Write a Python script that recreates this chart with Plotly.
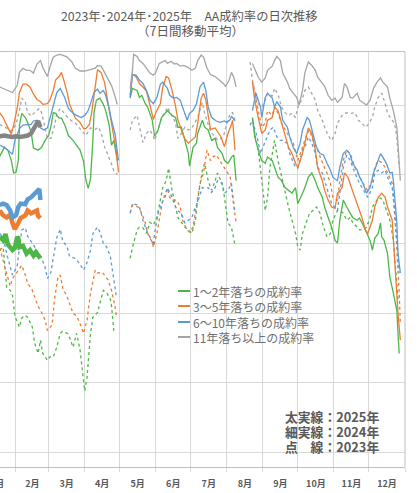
import plotly.graph_objects as go

# ---------------- data ----------------
MONTH_LABELS = ["1月", "2月", "3月", "4月", "5月", "6月", "7月", "8月", "9月", "10月", "11月", "12月"]
MONTH_STARTS = [1, 32, 60, 91, 121, 152, 182, 213, 244, 274, 305, 335, 366]  # day-of-year
CATEGORY_NAMES = ["1～2年落ちの成約率", "3～5年落ちの成約率", "6～10年落ちの成約率", "11年落ち以上の成約率"]
YEAR_NOTES = ["太実線：2025年", "細実線：2024年", "点　線：2023年"]
TITLE = "2023年･2024年･2025年　AA成約率の日次推移"
SUBTITLE = "（7日間移動平均）"

# x = day of year, y = contract rate (%, 7-day moving average); None = break in the series
# ---- 2025 (thick solid) ----
d25_green = [18, 21, 23, 25, 29, 31, 33, 34, 35, 38, 41, 44, 47, 49, 53]
v25_green = [41.0, 40.5, 41.4, 39.9, 39.1, 39.4, 41.0, 40.8, 39.5, 39.7, 38.6, 39.1, 38.3, 38.8, 37.9]
d25_orange = [18, 21, 24, 27, 29, 31, 34, 36, 40, 42, 45, 47, 50, 51, 53]
v25_orange = [44.8, 44.1, 43.8, 44.2, 43.0, 42.1, 43.0, 43.7, 44.1, 44.8, 44.4, 44.5, 44.8, 44.0, 43.7]
d25_blue = [18, 21, 24, 27, 29, 32, 34, 36, 40, 42, 45, 47, 50, 52, 53]
v25_blue = [45.6, 45.8, 45.6, 44.8, 43.8, 44.1, 45.3, 45.8, 45.7, 46.4, 46.7, 47.1, 47.7, 47.9, 46.3]
d25_gray = [18, 22, 25, 29, 32, 35, 39, 42, 45, 47, 49, 51, 53]
v25_gray = [55.5, 55.6, 55.5, 55.4, 55.5, 55.4, 55.5, 55.6, 55.9, 56.5, 57.2, 57.7, 56.8]

# ---- 2024 (thin solid) ----
d24_green = [18, 22, 25, 28, 30, 32, 34, 35, 37, 40, 42, 45, 47, 51, 54, 57, 60, 62, 64, 66, 69, 71, 74, 77, 81,
             84, 87, 90, 92, 94, 96, 98, 99, 101, 104, 107, 109, 112, 114, 116, 119, None,
             130, 132, 136, 138, 140, 143, 145, 149, 151, 154, 157, 160, 162, 166, 169, 171, 174, 177, 180, 181,
             184, 187, 188, 192, 194, 197, 200, 203, 205, 209, 211, 214, 217, 219, 221, None,
             235, 237, 240, 243, 246, 248, 252, 254, 257, 260, 263, 266, 269, 272, 274, 278, 280, 283, 286, 289,
             291, 295, 297, 300, 303, 306, 308, 310, 313, 316, 319, 321, 325, 327, 330, 333, 336, 338, 340, 343,
             345, 346, 348, 351, 353, 356, 359, 360, 361]
v24_green = [52.6, 53.9, 53.5, 52.0, 50.2, 50.3, 52.0, 57.1, 58.8, 58.2, 57.5, 56.1, 53.8, 53.5, 53.9, 54.9, 55.6,
             56.9, 58.9, 58.8, 58.1, 58.1, 57.1, 55.6, 54.9, 54.2, 53.5, 51.9, 49.2, 48.0, 49.4, 54.9, 58.9, 60.7,
             61.0, 60.1, 59.2, 57.1, 54.2, 54.9, 52.0, None,
             61.0, 62.4, 62.1, 61.1, 61.4, 60.2, 59.7, 57.8, 55.5, 56.4, 58.2, 58.9, 59.2, 58.5, 58.2, 56.8, 56.8,
             54.9, 53.0, 51.2, 53.9, 54.5, 55.9, 57.8, 56.8, 56.4, 54.9, 55.2, 53.9, 53.0, 52.0, 51.6, 52.5, 52.8,
             49.1, None,
             58.1, 55.4, 53.5, 52.0, 51.6, 52.5, 52.0, 51.0, 49.6, 49.1, 48.1, 47.7, 47.3, 48.1, 45.8, 47.3, 48.1,
             49.6, 50.2, 49.1, 48.1, 46.7, 45.3, 43.8, 42.4, 40.5, 40.1, 43.4, 46.3, 45.3, 44.4, 43.8, 43.4, 43.7,
             42.7, 41.5, 40.5, 39.1, 40.8, 41.5, 43.0, 41.0, 40.5, 38.6, 35.2, 32.9, 30.4, 27.1, 24.2]

d24_orange = [18, 21, 24, 28, 30, 33, 35, 38, 41, 44, 47, 50, 53, 55, 59, 61, 64, 66, 69, 71, 73, 76, 78, 81, 83,
              87, 90, 92, 95, 97, 99, 101, 102, 105, 108, 110, 113, 115, 118, 120, None,
              130, 132, 135, 138, 141, 144, 147, 150, 152, 156, 158, 161, 163, 166, 169, 171, 174, 177, 180, 182,
              186, 188, 191, 193, 195, 197, 199, 203, 205, 208, 211, 214, 217, 218, 220, None,
              235, 237, 240, 243, 246, 248, 252, 254, 257, 260, 263, 266, 269, 272, 274, 278, 280, 283, 286, 289,
              291, 295, 297, 300, 303, 306, 308, 312, 314, 317, 320, 323, 326, 329, 332, 334, 338, 340, 343, 346,
              349, 351, 355, 356, 358, 360, 362]
v24_orange = [58.9, 58.2, 57.1, 55.8, 57.1, 59.5, 61.8, 63.0, 63.0, 62.6, 61.6, 60.8, 60.5, 60.1, 60.2, 60.7, 62.1,
              63.6, 64.1, 64.7, 63.6, 61.8, 60.1, 58.9, 58.1, 57.5, 56.6, 56.6, 57.2, 58.9, 61.4, 64.1, 65.1, 64.7,
              63.3, 61.3, 58.7, 56.4, 53.5, 50.3, None,
              61.4, 64.4, 64.1, 63.1, 62.6, 62.0, 60.0, 57.9, 58.9, 60.2, 62.6, 64.1, 63.9, 62.1, 59.8, 57.9, 56.4,
              55.1, 54.5, 54.8, 55.4, 57.4, 61.0, 61.7, 60.7, 58.5, 56.5, 56.7, 56.1, 55.4, 54.0, 55.9, 57.2, 57.8,
              53.5, None,
              63.3, 60.7, 58.2, 55.9, 56.4, 57.8, 58.2, 59.7, 59.2, 57.4, 55.4, 53.9, 53.0, 51.6, 51.0, 53.0, 54.5,
              56.7, 55.9, 53.5, 51.0, 49.1, 47.7, 46.3, 45.3, 45.1, 47.3, 48.1, 50.2, 49.6, 48.1, 46.7, 45.3, 43.8,
              42.0, 41.5, 43.4, 45.3, 46.7, 47.3, 46.7, 45.3, 43.4, 40.5, 35.8, 30.0, 26.1]

d24_blue = [18, 22, 25, 29, 31, 35, 38, 41, 45, 47, 50, 53, 56, 59, 62, 65, 67, 70, 71, 74, 77, 81, 84, 88, 91,
            94, 96, 99, 102, 104, 107, 109, 112, 114, 117, 119, 120, None,
            130, 132, 135, 138, 141, 144, 147, 150, 153, 156, 158, 162, 164, 167, 170, 173, 175, 179, 181, 184,
            187, 190, 193, 195, 197, 200, 204, 207, 211, 213, 216, 217, 220, None,
            235, 238, 242, 243, 246, 248, 252, 254, 256, 259, 261, 265, 267, 270, 273, 276, 278, 282, 284, 287,
            290, 293, 296, 299, 302, 304, 308, 310, 313, 316, 319, 321, 325, 327, 330, 333, 336, 339, 342, 345,
            347, 350, 353, 355, 356, 357, 359, 360, 362]
v24_blue = [54.2, 53.9, 53.5, 52.9, 54.9, 56.6, 57.1, 57.1, 57.2, 57.7, 57.8, 56.7, 56.4, 56.7, 58.5, 60.4, 61.8,
            62.4, 62.1, 61.0, 59.5, 58.8, 58.5, 58.2, 58.5, 59.2, 60.2, 61.8, 62.3, 61.7, 62.1, 61.4, 59.5, 57.8,
            55.9, 53.2, 52.0, None,
            61.1, 64.4, 64.3, 63.6, 63.1, 62.1, 60.7, 60.2, 61.1, 63.0, 63.3, 62.4, 61.4, 61.0, 61.1, 60.7, 59.7,
            57.8, 58.8, 59.2, 60.2, 62.6, 63.3, 62.1, 59.7, 58.2, 57.7, 57.5, 57.7, 57.5, 57.9, 58.4, 57.7, None,
            59.2, 61.7, 59.7, 58.2, 61.1, 61.7, 61.0, 59.7, 60.5, 59.7, 57.8, 56.8, 55.4, 53.9, 53.0, 54.5, 56.4,
            58.2, 57.8, 55.9, 53.9, 53.0, 52.8, 51.6, 50.6, 49.6, 49.1, 51.0, 53.0, 53.5, 52.8, 51.6, 50.6, 49.6,
            48.7, 47.3, 48.1, 50.2, 51.6, 53.0, 52.5, 51.6, 50.2, 50.3, 49.1, 46.7, 43.0, 38.6, 35.8]

d24_gray = [18, 24, 29, 33, 35, 38, 41, 44, 47, 50, 53, 55, 59, 61, 64, 67, 70, 72, 76, 80, 83, 87, 91, 96, 100,
            102, 105, 108, 111, 114, 116, 119, None,
            130, 132, 133, 136, 138, 141, 144, 147, 150, 152, 155, 157, 160, 162, 165, 168, 170, 173, 176, 180,
            183, 186, 188, 191, 193, 196, 199, 203, 206, 210, 212, 215, 217, 219, 221, None,
            235, 237, 240, 243, 246, 248, 252, 254, 256, 259, 261, 265, 267, 270, 273, 275, 278, 280, 283, 286,
            289, 291, 295, 297, 300, 303, 306, 308, 312, 314, 316, 319, 321, 325, 327, 330, 333, 336, 339, 342,
            345, 347, 351, 353, 356, 359, 361, 362]
v24_gray = [62.6, 62.1, 61.8, 62.8, 64.7, 65.3, 65.0, 65.0, 64.6, 65.9, 66.4, 65.4, 64.1, 65.4, 66.9, 67.2, 67.3,
            67.2, 66.9, 66.2, 65.3, 64.9, 64.9, 65.1, 65.3, 65.7, 65.6, 64.7, 63.7, 62.8, 61.8, 60.1, None,
            62.4, 65.0, 67.3, 67.0, 66.4, 66.0, 65.3, 64.6, 64.3, 64.7, 66.0, 66.2, 66.4, 66.0, 66.3, 65.9, 66.0,
            65.6, 65.7, 65.4, 65.0, 65.3, 66.4, 67.2, 66.9, 65.3, 64.4, 64.1, 63.7, 63.1, 62.7, 63.6, 64.7, 64.0,
            62.6, None,
            66.0, 65.3, 64.0, 63.3, 63.9, 65.0, 65.6, 66.4, 67.0, 66.4, 64.6, 63.3, 62.4, 61.7, 61.1, 60.0, 62.1,
            64.6, 66.2, 65.7, 65.0, 64.0, 63.1, 62.7, 61.4, 60.7, 61.0, 60.4, 61.1, 63.1, 62.7, 61.1, 61.0, 61.7,
            60.7, 60.4, 60.0, 60.7, 62.4, 63.3, 63.9, 63.3, 62.6, 61.0, 59.2, 56.8, 52.5, 49.1]

# ---- 2023 (dotted) ----
d23_green = [18, 21, 23, 24, 27, 29, 31, 34, 35, 37, 40, 42, 46, 48, 51, 53, 55, 59, 61, 64, 67, 70, 72, 76, 78,
             81, 84, 87, 90, 91, 93, 96, 98, 102, 104, 107, 110, 113, 114, 116, 118, None,
             130, 132, 136, 138, 141, 144, 147, 150, 153, 156, 158, 161, 163, 166, 169, 171, 174, 177, 180, 183,
             186, 188, 192, 194, 197, 200, 203, 205, 209, 211, 214, 217, 220, None,
             235, 237, 240, 243, 246, 248, 250, 253, 254, 257, 260, 263, 266, 269, 272, 274, 276, 278, 282, 284,
             287, 290, 293, 296, 299, 302, 304, 308, 310, 313, 316, 319, 321, 325, 327, 330, 333, 336, 338, 342,
             344, 347, 350, 353, 356, 358, 360]
v23_green = [39.1, 39.5, 35.8, 33.7, 33.3, 32.6, 29.6, 28.5, 28.0, 29.3, 29.7, 29.4, 28.0, 25.7, 24.2, 26.1, 24.2,
             23.2, 23.7, 23.7, 25.1, 27.1, 27.4, 27.1, 26.5, 25.1, 27.1, 24.7, 20.8, 18.8, 20.8, 27.1, 29.4, 30.1,
             31.4, 33.3, 32.9, 32.0, 31.1, 27.5, 27.2, None,
             37.9, 39.5, 42.0, 42.4, 42.3, 41.5, 43.1, 42.7, 43.8, 46.7, 48.1, 49.1, 50.9, 47.7, 45.3, 43.8, 43.1,
             42.4, 42.0, 41.5, 43.4, 46.3, 50.6, 51.6, 49.1, 47.7, 49.1, 50.2, 48.7, 46.7, 43.0, 42.4, 39.8, None,
             58.2, 55.9, 53.5, 49.1, 44.8, 46.7, 51.0, 53.9, 54.9, 52.0, 49.6, 47.7, 45.3, 43.4, 41.5, 39.5, 39.1,
             41.5, 43.4, 44.4, 44.8, 45.3, 44.4, 42.4, 41.0, 41.5, 43.4, 44.8, 44.8, 44.4, 43.4, 43.8, 43.1, 42.4,
             42.0, 42.0, 42.4, 43.8, 45.3, 46.3, 46.7, 46.3, 44.8, 43.4, 40.5, 35.8, 31.9]

d23_orange = [18, 21, 24, 27, 29, 33, 35, 37, 40, 42, 46, 48, 51, 54, 57, 59, 63, 65, 68, 70, 72, 76, 78, 81, 84,
              87, 90, 93, 96, 100, 102, 106, 108, 111, 114, 117, 118, None,
              130, 132, 137, 140, 143, 145, 149, 150, 153, 156, 158, 162, 164, 167, 170, 173, 175, 179, 181, 184,
              187, 190, 193, 196, 199, 201, 204, 207, 210, 213, 216, 218, 221, None,
              235, 237, 240, 243, 246, 248, 252, 254, 257, 260, 265, 267, 270, 274, 278, 282, 284, 287, 290, 293,
              296, 299, 302, 304, 308, 310, 313, 316, 319, 323, 327, 332, 334, 338, 340, 343, 346, 349, 351, 355,
              357, 359, 361, 362]
v23_orange = [39.4, 37.6, 35.8, 33.9, 35.0, 35.9, 36.5, 36.9, 35.5, 34.3, 33.3, 32.3, 31.0, 30.1, 29.0, 27.5, 28.3,
              31.9, 35.2, 35.5, 33.7, 32.3, 31.4, 30.0, 29.6, 28.5, 27.1, 29.0, 32.9, 36.2, 35.8, 35.9, 35.5, 34.8,
              33.3, 31.0, 29.7, None,
              44.5, 45.6, 45.3, 44.4, 43.0, 41.5, 40.2, 39.5, 41.5, 44.4, 46.3, 48.0, 46.7, 46.3, 46.3, 45.3, 43.4,
              42.0, 41.7, 42.4, 45.3, 48.7, 50.2, 53.5, 52.0, 52.5, 52.8, 52.0, 51.0, 50.2, 49.6, 46.7, 43.0, None,
              63.3, 61.7, 58.8, 56.8, 57.4, 59.2, 58.5, 59.7, 58.8, 57.4, 55.9, 55.4, 54.5, 52.0, 53.9, 55.9, 56.4,
              54.9, 53.9, 52.5, 51.3, 50.2, 48.7, 46.7, 46.3, 49.1, 52.0, 53.5, 53.0, 51.0, 49.6, 48.1, 47.7, 49.1,
              51.0, 52.0, 51.7, 51.0, 50.2, 48.7, 44.4, 39.5, 32.9, 28.5]

d23_blue = [18, 21, 24, 27, 29, 33, 35, 37, 40, 42, 46, 48, 51, 54, 57, 59, 62, 64, 67, 70, 72, 76, 78, 83, 86,
            90, 93, 96, 98, 102, 104, 107, 110, 113, 115, 118, None,
            130, 132, 136, 138, 141, 144, 147, 150, 151, 154, 157, 160, 162, 166, 169, 171, 174, 177, 180, 183,
            186, 188, 192, 194, 197, 200, 203, 205, 209, 211, 214, 217, 220, None,
            233, 235, 239, 242, 244, 248, 250, 253, 256, 259, 261, 265, 267, 272, 274, 278, 280, 283, 286, 289,
            291, 295, 299, 303, 308, 310, 313, 316, 319, 323, 327, 332, 334, 338, 340, 343, 346, 349, 351, 355,
            357, 359, 361]
v23_blue = [41.5, 40.9, 38.6, 36.8, 35.5, 36.8, 39.1, 42.0, 42.3, 41.1, 40.1, 39.5, 38.8, 37.9, 36.6, 35.0, 35.9,
            38.1, 40.9, 42.1, 40.5, 39.5, 38.2, 37.9, 37.3, 36.2, 37.3, 39.1, 41.5, 42.4, 41.7, 40.1, 39.5, 38.2,
            35.8, 32.6, None,
            44.4, 45.8, 45.6, 45.3, 43.4, 42.0, 41.0, 39.8, 41.5, 44.4, 45.8, 46.7, 48.1, 46.7, 45.3, 44.8, 44.4,
            43.0, 43.4, 43.8, 45.3, 46.0, 48.1, 48.0, 48.1, 47.4, 48.1, 49.1, 48.7, 47.3, 47.7, 48.7, 44.4, None,
            57.1, 57.8, 55.4, 53.0, 53.9, 55.4, 56.4, 56.8, 55.4, 54.9, 54.9, 54.5, 53.0, 51.0, 50.9, 53.5, 53.9,
            55.4, 54.5, 53.0, 51.0, 50.2, 48.1, 45.8, 44.8, 47.3, 51.0, 52.8, 52.0, 50.2, 48.7, 47.3, 46.7, 48.1,
            50.2, 50.6, 50.2, 50.6, 49.6, 48.1, 45.3, 40.5, 35.8]

d23_gray = [18, 23, 27, 29, 32, 35, 37, 40, 42, 45, 48, 52, 54, 57, 59, 62, 65, 67, 70, 73, 77, 80, 83, 88, 92,
            96, 100, 103, 106, 108, 111, 114, 116, 119, None,
            130, 132, 136, 138, 141, 144, 147, 150, 151, 154, 157, 160, 162, 166, 169, 171, 174, 177, 180, 183,
            186, 188, 192, 194, 197, 200, 203, 205, 210, 213, 216, 218, 220, None,
            233, 235, 237, 240, 243, 246, 248, 252, 254, 257, 260, 263, 266, 269, 272, 274, 278, 280, 283, 286,
            289, 291, 295, 297, 300, 303, 306, 308, 312, 314, 317, 320, 323, 326, 329, 332, 334, 338, 340, 343,
            346, 349, 351, 355, 357, 359, 361]
v23_gray = [57.2, 56.8, 56.2, 56.5, 57.2, 59.2, 61.0, 60.4, 58.9, 58.4, 58.9, 59.5, 58.9, 56.7, 55.2, 55.2, 56.9,
            58.7, 59.5, 58.9, 58.1, 57.7, 57.4, 56.4, 55.6, 56.7, 56.5, 56.8, 55.5, 54.0, 52.8, 51.5, 50.5, 50.0,
            None,
            56.4, 57.8, 58.5, 56.9, 54.6, 55.9, 56.4, 55.5, 54.9, 56.4, 58.2, 58.9, 59.7, 58.5, 57.4, 55.2, 55.9,
            56.8, 56.4, 56.7, 57.5, 58.2, 60.4, 58.8, 57.2, 55.9, 55.5, 54.9, 55.4, 57.4, 58.8, 58.9, 57.8, None,
            66.2, 63.6, 62.1, 60.2, 59.7, 60.7, 61.7, 61.3, 62.4, 61.5, 59.7, 58.9, 58.5, 58.8, 58.2, 59.7, 61.0,
            62.1, 62.6, 61.7, 60.7, 59.2, 57.8, 56.8, 55.6, 54.9, 55.9, 57.4, 58.5, 58.8, 58.9, 58.8, 58.9, 57.8,
            57.4, 56.8, 57.1, 58.2, 59.7, 61.1, 61.7, 60.2, 58.8, 57.8, 57.4, 55.4, 51.0]

# ---------------- styling ----------------
COLORS = ["#4CB748", "#ED7D31", "#5B9BD5", "#A5A5A5"]
THICK_COLORS = ["#4CB748", "#ED7D31", "#5B9BD5", "#858585"]
TEXT_GRAY = "#595959"
GRID = "#D9D9D9"
FONT = "Noto Sans CJK JP"

PLOT_W, PLOT_H, TOP, LEFT = 405, 415, 52, 0


def px(x):
    return (x - LEFT) / PLOT_W


def py(y):
    return (TOP + PLOT_H - y) / PLOT_H


series = [
    # (days, values, colour, width, dash)
    (d23_green, v23_green, COLORS[0], 1.3, "dot"),
    (d23_orange, v23_orange, COLORS[1], 1.3, "dot"),
    (d23_blue, v23_blue, COLORS[2], 1.3, "dot"),
    (d23_gray, v23_gray, COLORS[3], 1.3, "dot"),
    (d24_green, v24_green, COLORS[0], 1.3, "solid"),
    (d24_orange, v24_orange, COLORS[1], 1.3, "solid"),
    (d24_blue, v24_blue, COLORS[2], 1.3, "solid"),
    (d24_gray, v24_gray, COLORS[3], 1.3, "solid"),
    (d25_green, v25_green, THICK_COLORS[0], 4.5, "solid"),
    (d25_orange, v25_orange, THICK_COLORS[1], 4.5, "solid"),
    (d25_blue, v25_blue, THICK_COLORS[2], 4.5, "solid"),
    (d25_gray, v25_gray, THICK_COLORS[3], 4.5, "solid"),
]

fig = go.Figure()
for d, v, col, w, dash in series:
    fig.add_trace(go.Scatter(x=d, y=v, mode="lines", connectgaps=False,
                             line=dict(color=col, width=w, dash=dash),
                             hoverinfo="skip", showlegend=False))

mids = [(MONTH_STARTS[i] + MONTH_STARTS[i + 1]) / 2 for i in range(12)]

annotations = [
    dict(text=TITLE, x=px(189), y=py(16), xref="paper", yref="paper", showarrow=False,
         xanchor="center", yanchor="middle", font=dict(size=12.3, color=TEXT_GRAY, family=FONT)),
    dict(text=SUBTITLE, x=px(190), y=py(31), xref="paper", yref="paper", showarrow=False,
         xanchor="center", yanchor="middle", font=dict(size=12.5, color=TEXT_GRAY, family=FONT)),
    dict(text=MONTH_LABELS[0], x=px(-2.6), y=py(483), xref="paper", yref="paper", showarrow=False,
         xanchor="center", yanchor="middle", font=dict(size=9, color=TEXT_GRAY, family=FONT, weight="bold")),
]
shapes = [dict(type="line", xref="paper", yref="paper", x0=1, x1=1, y0=0, y1=1,
               line=dict(color="#BFBFBF", width=1))]

legend_rows = [291, 306, 322, 337]
for name, col, ry in zip(CATEGORY_NAMES, COLORS, legend_rows):
    shapes.append(dict(type="line", xref="paper", yref="paper", x0=px(178), x1=px(190), y0=py(ry), y1=py(ry),
                       line=dict(color=col, width=2)))
    annotations.append(dict(text=name, x=px(191), y=py(ry), xref="paper", yref="paper", showarrow=False,
                            xanchor="left", yanchor="middle",
                            font=dict(size=12, color="#6F6F6F", family=FONT)))

note_rows = [416, 431, 446]
for note, ry in zip(YEAR_NOTES, note_rows):
    annotations.append(dict(text=note, x=px(283), y=py(ry), xref="paper", yref="paper", showarrow=False,
                            xanchor="left", yanchor="middle",
                            font=dict(size=12.8, color=TEXT_GRAY, family=FONT, weight="bold")))

fig.update_layout(
    width=417, height=493,
    margin=dict(l=0, r=12, t=52, b=26, pad=0),
    paper_bgcolor="white", plot_bgcolor="white",
    showlegend=False,
    xaxis=dict(range=[18.27, 366], tickmode="array", tickvals=mids, ticktext=MONTH_LABELS,
               showgrid=False, zeroline=False, showline=True, mirror=True, linecolor="#BFBFBF",
               ticks="", ticklabelstandoff=8,
               tickfont=dict(size=9, color=TEXT_GRAY, family=FONT, weight="bold"),
               minor=dict(tickmode="array", tickvals=MONTH_STARTS, showgrid=True, gridcolor=GRID,
                          gridwidth=1, ticks="outside", ticklen=4, tickcolor=GRID)),
    yaxis=dict(range=[7.84, 67.64], tick0=0, dtick=10, showticklabels=False, showgrid=True,
               gridcolor=GRID, gridwidth=1, zeroline=False, showline=False),
    annotations=annotations,
    shapes=shapes,
)

fig.write_html("out.html", config={"displayModeBar": False, "staticPlot": True},
               post_script="document.body.style.margin='0px';document.body.style.padding='0px';")
